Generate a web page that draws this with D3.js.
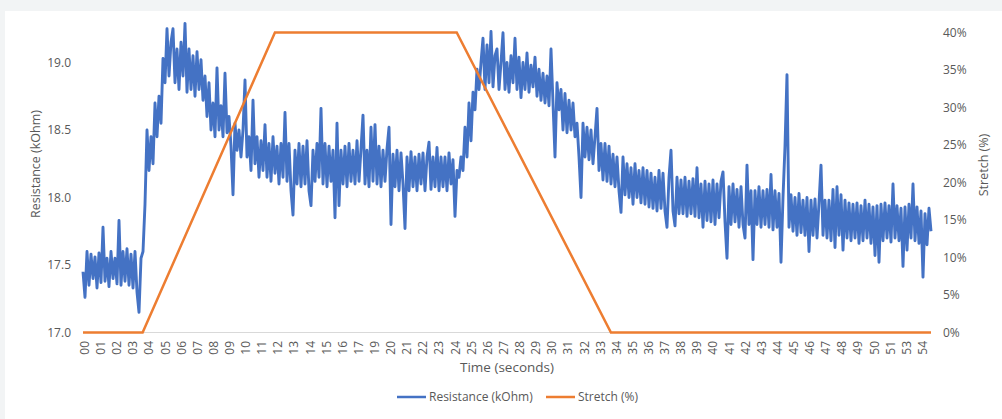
<!DOCTYPE html>
<html>
<head>
<meta charset="utf-8">
<script src="https://cdn.jsdelivr.net/npm/d3@7"></script>
<style>
    body { margin: 0; background: #f2f4f5; }
    svg { display: block; }
    text { font-family: "Open Sans", "Noto Sans", sans-serif; fill: #595959; }
</style>
</head>
<body>
<svg id="chart" width="1002" height="419"></svg>
<script>
// x tick labels (category axis, Excel skipped 18 and 52)
const timeLabels = ["00","01","02","03","04","05","06","07","08","09","10","11","12","13","14","15","16","17",
    "19","20","21","22","23","24","25","26","27","28","29","30","31","32","33","34","35","36","37","38","39",
    "40","41","42","43","44","45","46","47","48","49","50","51","53","54"];

// resistance readings (kOhm), evenly sampled over the run
const resistance = [
    17.45,17.26,17.6,17.35,17.58,17.4,17.56,17.33,17.59,17.37,
    17.78,17.38,17.55,17.34,17.6,17.4,17.55,17.36,17.83,17.35,
    17.6,17.38,17.62,17.35,17.58,17.33,17.6,17.3,17.15,17.55,
    17.6,17.95,18.5,18.2,18.45,18.25,18.7,18.45,18.75,18.55,
    19.03,18.85,19.25,18.9,19.15,19.25,18.85,19.1,18.8,19.15,
    18.9,19.29,18.78,19.1,18.8,19.05,18.75,19.08,18.8,19.02,
    18.72,18.9,18.6,18.85,18.5,18.7,18.45,18.96,18.5,18.68,
    18.45,18.92,18.48,18.6,18.38,18.02,18.55,18.35,18.5,18.3,
    18.5,18.87,18.3,18.45,18.2,18.72,18.25,18.45,18.15,18.42,
    18.2,18.54,18.15,18.4,18.12,18.45,18.18,18.38,18.1,18.4,
    18.15,18.63,18.12,18.4,18.05,17.87,18.35,18.1,18.4,18.08,
    18.38,18.1,18.42,18.05,17.94,18.35,18.12,18.4,18.15,18.66,
    18.1,18.4,18.08,18.38,18.12,18.35,17.85,18.55,17.94,18.35,
    18.1,18.38,18.08,18.4,18.12,18.35,18.1,18.42,18.12,18.36,
    18.61,18.1,18.35,18.08,18.52,18.12,18.54,18.1,18.38,18.08,
    18.35,18.12,18.36,18.52,17.8,18.32,18.08,18.35,18.05,18.33,
    18.1,17.77,18.3,18.05,18.34,18.08,18.3,18.05,18.32,18.1,
    18.33,18.05,18.3,18.41,18.06,18.3,18.08,18.37,18.05,18.3,
    18.08,18.3,18.05,18.33,18.1,18.28,17.86,18.2,18.15,18.3,
    18.2,18.52,18.3,18.7,18.42,18.78,18.65,18.95,18.8,19.0,
    19.18,18.8,19.13,18.85,19.23,18.82,19.05,19.1,18.8,19.0,
    19.22,18.8,19.0,18.78,19.05,18.85,19.18,18.8,19.04,18.74,
    19.0,18.8,19.07,18.78,18.98,18.82,19.04,18.75,18.95,18.72,
    18.92,18.7,18.9,18.68,19.1,18.7,18.3,18.85,18.65,18.8,
    18.5,18.77,18.48,18.72,18.5,18.7,18.45,18.55,18.3,18.0,
    18.55,18.3,18.52,18.28,18.5,18.25,18.45,18.66,18.2,18.4,
    18.13,18.4,18.12,18.38,18.1,18.32,18.08,18.3,18.05,17.89,
    18.3,18.02,18.25,18.0,18.22,17.95,18.25,18.0,18.2,17.96,
    18.22,17.95,18.2,17.93,18.18,17.92,18.15,17.9,18.2,17.92,
    18.18,17.9,17.78,18.15,18.35,17.9,17.79,18.15,17.88,18.13,
    17.88,18.15,17.86,18.12,17.88,18.14,17.86,18.22,17.85,18.1,
    17.78,18.12,17.83,18.1,17.82,18.13,17.8,18.1,17.85,18.12,
    18.19,17.82,17.55,18.08,17.8,18.1,17.82,18.06,17.78,18.08,
    17.8,17.7,18.24,17.8,18.05,17.54,18.05,17.8,18.08,17.78,
    18.05,17.8,18.06,17.78,18.17,17.76,18.05,17.78,18.03,17.52,
    18.0,18.38,18.91,17.78,18.02,17.75,18.0,17.72,18.03,17.74,
    17.98,17.72,18.0,17.6,17.98,17.72,17.99,17.7,17.96,18.24,
    17.72,17.98,17.7,17.98,17.68,18.06,17.63,18.08,17.72,18.02,
    17.61,17.98,17.7,17.96,17.68,17.95,17.7,17.96,17.66,17.94,
    17.68,17.98,17.7,17.95,17.66,17.93,17.57,17.94,17.52,17.95,
    17.68,17.96,17.7,17.94,17.67,18.1,17.7,17.94,17.68,17.92,
    17.49,17.93,17.61,17.95,17.7,18.1,17.68,17.93,17.66,17.9,
    17.41,17.88,17.65,17.92,17.75
];

// stretch profile: breakpoints in label units and stretch fraction
const stretchTime = [-0.12, 3.58, 11.79, 23.07, 32.64, 52.5];
const stretchValue = [0, 0, 0.40, 0.40, 0, 0];

const resTicks = [17.0, 17.5, 18.0, 18.5, 19.0];
const stretchTicks = [0, 0.05, 0.10, 0.15, 0.20, 0.25, 0.30, 0.35, 0.40];

const svg = d3.select("#chart");

// white card
svg.append("rect")
    .attr("x", 5).attr("y", 11)
    .attr("width", 997).attr("height", 408)
    .attr("fill", "#ffffff");

const plot = {left: 83, right: 931, top: 32.5, bottom: 332.5};

const x = d3.scaleLinear()
    .domain([-0.12, 52.5])
    .range([plot.left, plot.right]);

const yRes = d3.scaleLinear()
    .domain([17, 19])
    .range([plot.bottom, plot.bottom - 270]);

const yStretch = d3.scaleLinear()
    .domain([0, 0.4])
    .range([plot.bottom, plot.top]);

const step = (x.domain()[1] - x.domain()[0]) / (resistance.length - 1);

// baseline
svg.append("line")
    .attr("x1", plot.left).attr("x2", plot.right)
    .attr("y1", plot.bottom).attr("y2", plot.bottom)
    .attr("stroke", "#d9d9d9").attr("stroke-width", 1);

// left axis labels
svg.append("g").selectAll("text")
    .data(resTicks)
    .join("text")
    .attr("x", 71)
    .attr("y", d => yRes(d) + 4)
    .attr("text-anchor", "end")
    .attr("font-size", 12)
    .text(d => d3.format(".1f")(d));

// right axis labels
svg.append("g").selectAll("text")
    .data(stretchTicks)
    .join("text")
    .attr("x", 943)
    .attr("y", d => yStretch(d) + 4)
    .attr("font-size", 12)
    .text(d => d3.format(".0%")(d));

// x labels, rotated
svg.append("g").selectAll("text")
    .data(timeLabels)
    .join("text")
    .attr("transform", (d, i) => `translate(${x(i) + 4},341) rotate(-90)`)
    .attr("text-anchor", "end")
    .attr("font-size", 12)
    .text(d => d);

// axis titles
svg.append("text")
    .attr("transform", "translate(40,164) rotate(-90)")
    .attr("text-anchor", "middle")
    .attr("font-size", 12.5)
    .text("Resistance (kOhm)");

svg.append("text")
    .attr("transform", "translate(988,165) rotate(-90)")
    .attr("text-anchor", "middle")
    .attr("font-size", 12.5)
    .text("Stretch (%)");

svg.append("text")
    .attr("x", 507).attr("y", 372)
    .attr("text-anchor", "middle")
    .attr("font-size", 13.5)
    .text("Time (seconds)");

// series
const resLine = d3.line()
    .x((d, i) => x(x.domain()[0] + i * step))
    .y(d => yRes(d));

svg.append("path")
    .datum(resistance)
    .attr("d", resLine)
    .attr("fill", "none")
    .attr("stroke", "#4472c4")
    .attr("stroke-width", 2.9)
    .attr("stroke-linejoin", "round");

const stretchLine = d3.line()
    .x((d, i) => x(stretchTime[i]))
    .y(d => yStretch(d));

svg.append("path")
    .datum(stretchValue)
    .attr("d", stretchLine)
    .attr("fill", "none")
    .attr("stroke", "#ed7d31")
    .attr("stroke-width", 2.5);

// legend
const legend = [
    {name: "Resistance (kOhm)", color: "#4472c4", x: 397},
    {name: "Stretch (%)", color: "#ed7d31", x: 546}
];

let lg = svg.append("g").selectAll("g")
    .data(legend)
    .join("g")
    .attr("transform", d => `translate(${d.x},397)`);

lg.append("line")
    .attr("x1", 0).attr("x2", 29)
    .attr("stroke", d => d.color)
    .attr("stroke-width", 2.5);

lg.append("text")
    .attr("x", 32).attr("y", 4)
    .attr("font-size", 12)
    .text(d => d.name);
</script>
</body>
</html>
